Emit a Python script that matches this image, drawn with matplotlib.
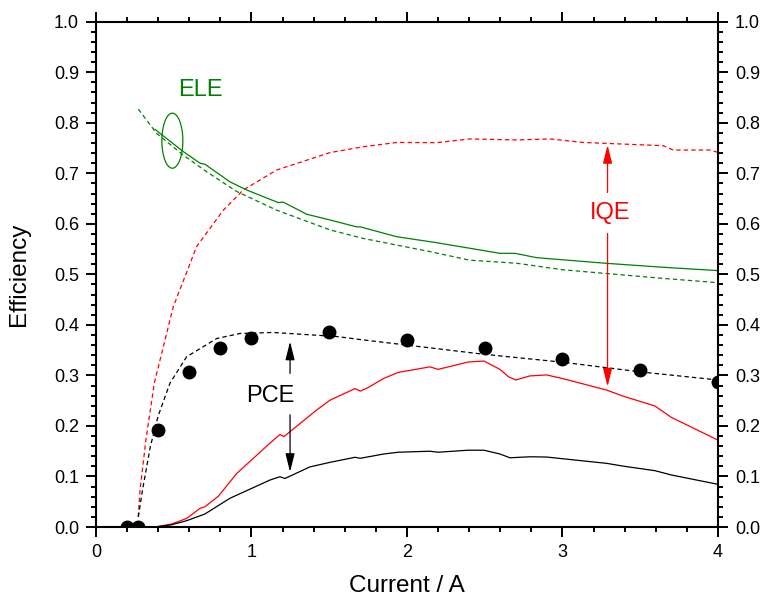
import numpy as np
import matplotlib
matplotlib.use('Agg')
import matplotlib.pyplot as plt
from matplotlib.patches import Ellipse
from matplotlib.ticker import MultipleLocator, FormatStrFormatter

plt.rcParams['font.family'] = ['Liberation Sans', 'DejaVu Sans']

# measured PCE (points)
pce_x = [0.2, 0.27, 0.4, 0.6, 0.8, 1.0, 1.5, 2.0, 2.5, 3.0, 3.5, 4.0]
pce_y = [0.0, 0.0, 0.192, 0.306, 0.354, 0.375, 0.385, 0.370, 0.354, 0.333, 0.311, 0.286]

# PCE model (black dashed)
pcefit_x = [0.272, 0.30, 0.35, 0.40, 0.476, 0.583, 0.776, 0.926, 1.14, 1.548, 1.70, 2.49, 3.005, 3.5, 4.0]
pcefit_y = [0.02, 0.075, 0.16, 0.22, 0.285, 0.337, 0.373, 0.383, 0.385, 0.377, 0.371, 0.342, 0.326, 0.307, 0.291]

# IQE (red dashed)
iqe_x = [0.272, 0.283, 0.32, 0.375, 0.497, 0.647, 0.819, 0.947, 1.162, 1.505, 1.72, 1.934, 2.19, 2.405,
         2.705, 2.92, 3.134, 3.648, 3.713, 3.949, 4.0]
iqe_y = [0.02, 0.073, 0.17, 0.285, 0.436, 0.555, 0.627, 0.667, 0.7065, 0.741, 0.7526, 0.761, 0.7606, 0.768,
         0.766, 0.768, 0.761, 0.7546, 0.746, 0.746, 0.7415]

# ELE (green solid / dashed)
ele_x = [0.379, 0.561, 0.669, 0.70, 0.862, 0.969, 1.172, 1.204, 1.355, 1.505, 1.676, 1.70, 1.934, 2.19,
         2.598, 2.695, 2.834, 3.284, 3.648, 4.0]
ele_y = [0.787, 0.743, 0.72, 0.718, 0.683, 0.667, 0.642, 0.643, 0.619, 0.6076, 0.594, 0.594, 0.5745, 0.5627,
         0.5416, 0.5416, 0.533, 0.5218, 0.514, 0.5074]
elefit_x = [0.272, 0.39, 0.561, 0.712, 0.905, 1.162, 1.505, 1.72, 2.148, 2.405, 2.705, 3.005, 3.648, 4.0]
elefit_y = [0.827, 0.779, 0.736, 0.703, 0.664, 0.627, 0.588, 0.571, 0.545, 0.528, 0.522, 0.509, 0.492, 0.4835]

# red solid
red_x = [0.379, 0.487, 0.583, 0.669, 0.70, 0.787, 0.905, 1.119, 1.183, 1.209, 1.419, 1.505, 1.666, 1.70,
         1.75, 1.85, 1.944, 2.148, 2.20, 2.394, 2.495, 2.598, 2.652, 2.70, 2.79, 2.898, 3.005, 3.284, 3.39,
         3.595, 3.70, 4.0]
red_y = [0.0, 0.006, 0.017, 0.037, 0.04, 0.061, 0.106, 0.166, 0.183, 0.179, 0.2315, 0.251, 0.274, 0.269,
         0.276, 0.294, 0.306, 0.317, 0.312, 0.3265, 0.3285, 0.312, 0.2975, 0.291, 0.299, 0.301, 0.2935, 0.271,
         0.259, 0.2395, 0.217, 0.172]

# black solid
blk_x = [0.379, 0.48, 0.583, 0.70, 0.862, 1.119, 1.183, 1.215, 1.376, 1.505, 1.666, 1.70, 1.85, 1.944, 2.148,
         2.20, 2.394, 2.495, 2.598, 2.662, 2.79, 2.898, 3.005, 3.284, 3.39, 3.595, 3.70, 4.0]
blk_y = [0.0, 0.004, 0.0125, 0.0257, 0.057, 0.093, 0.0995, 0.096, 0.119, 0.128, 0.138, 0.136, 0.1445, 0.148,
         0.150, 0.148, 0.152, 0.152, 0.1445, 0.137, 0.139, 0.1385, 0.135, 0.126, 0.1205, 0.1115, 0.103, 0.0845]

green = '#008000'
red = '#ff0000'

fig = plt.figure(figsize=(7.65, 6.01), dpi=100)
ax = fig.add_axes([0.1255, 0.1231, 0.813, 0.8408])

dash = (0, (3.5, 2.5))
ax.plot(iqe_x, iqe_y, color=red, lw=0.9, linestyle=dash)
ax.plot(elefit_x, elefit_y, color=green, lw=0.9, linestyle=dash)
ax.plot(ele_x, ele_y, color=green, lw=0.9)
ax.plot(red_x, red_y, color=red, lw=0.9)
ax.plot(blk_x, blk_y, color='black', lw=0.9)
ax.plot(pcefit_x, pcefit_y, color='black', lw=0.9, linestyle=dash)
ax.plot(pce_x, pce_y, 'o', color='black', ms=9, zorder=5)

# annotations
ax.add_patch(Ellipse((0.491, 0.7645), 0.135, 0.109, fill=False, edgecolor=green, lw=0.9))
ax.text(0.669, 0.865, 'ELE', color=green, fontsize=17, ha='center', va='center')

arr = dict(arrowstyle='-|>,head_length=0.8,head_width=0.2', lw=0.9, shrinkA=0, shrinkB=0, mutation_scale=14)
ax.annotate('', xy=(1.248, 0.367), xytext=(1.248, 0.304), arrowprops=dict(arr, color='black'))
ax.annotate('', xy=(1.248, 0.109), xytext=(1.248, 0.222), arrowprops=dict(arr, color='black'))
ax.text(1.12, 0.259, 'PCE', color='black', fontsize=17, ha='center', va='center')

ax.annotate('', xy=(3.29, 0.756), xytext=(3.29, 0.662), arrowprops=dict(arr, color=red))
ax.annotate('', xy=(3.29, 0.278), xytext=(3.29, 0.581), arrowprops=dict(arr, color=red))
ax.text(3.31, 0.622, 'IQE', color=red, fontsize=17, ha='center', va='center')

ax.set_xlim(0, 4)
ax.set_ylim(0, 1.0)
ax.xaxis.set_major_locator(MultipleLocator(1))
ax.xaxis.set_minor_locator(MultipleLocator(0.2))
ax.yaxis.set_major_locator(MultipleLocator(0.1))
ax.yaxis.set_minor_locator(MultipleLocator(0.02))
ax.yaxis.set_major_formatter(FormatStrFormatter('%.1f'))

for s in ax.spines.values():
    s.set_linewidth(1.5)
ax.tick_params(which='both', direction='out', top=True, right=True, labelright=True,
               labelsize=13, width=1.4)
ax.tick_params(which='major', length=7.2, pad=5)
ax.tick_params(which='minor', length=3.6)

ax.set_xlabel('Current / A', fontsize=17.5, labelpad=10)
ax.set_ylabel('Efficiency', fontsize=17.5, labelpad=17)

fig.savefig('out.png', dpi=100)
